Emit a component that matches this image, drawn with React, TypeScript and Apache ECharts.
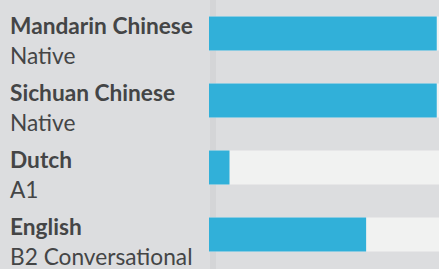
import React, { useEffect, useRef } from "react";
import * as echarts from "echarts";

const languages = ["Mandarin Chinese", "Sichuan Chinese", "Dutch", "English"];
const levels = ["Native", "Native", "A1", "B2 Conversational"];
const proficiency = [100, 100, 9, 69];

export default function App() {
  const ref = useRef<HTMLDivElement>(null);
  useEffect(() => {
    const chart = echarts.init(ref.current!, null, { renderer: "svg" });
    const cats = languages.map((l, i) => `${l}\n${levels[i]}`);
    chart.setOption({
      animation: false,
      backgroundColor: "#dcdddf",
      grid: { left: 209, right: 0, top: 0, bottom: 1 },
      graphic: [
        {
          type: "rect",
          z: -1,
          shape: { x: 210, y: 0, width: 6, height: 269 },
          style: { fill: "#d4d5d7" },
        },
      ],
      xAxis: {
        type: "value",
        min: 0,
        max: 101,
        show: false,
      },
      yAxis: {
        type: "category",
        inverse: true,
        data: cats,
        axisLine: { show: false },
        axisTick: { show: false },
        axisLabel: {
          align: "left",
          margin: 199,
          padding: [13, 0, 0, 0],
          formatter: (v: string) => {
            const [a, b] = v.split("\n");
            return `{a|${a}}\n{b|${b}}`;
          },
          rich: {
            a: {
              fontFamily: "Lato",
              fontWeight: "bold",
              fontSize: 22.7,
              lineHeight: 30,
              color: "#444546",
            },
            b: {
              fontFamily: "Lato",
              fontSize: 22.7,
              lineHeight: 30,
              color: "#444546",
            },
          },
        },
      },
      series: [
        {
          type: "bar",
          data: proficiency,
          barWidth: 34,
          itemStyle: { color: "#31b0d9" },
          showBackground: true,
          backgroundStyle: { color: "#f1f2f1" },
        },
      ],
    });
    return () => chart.dispose();
  }, []);
  return (
    <div
      ref={ref}
      style={{ position: "fixed", left: 0, top: 0, width: 439, height: 269 }}
    />
  );
}
